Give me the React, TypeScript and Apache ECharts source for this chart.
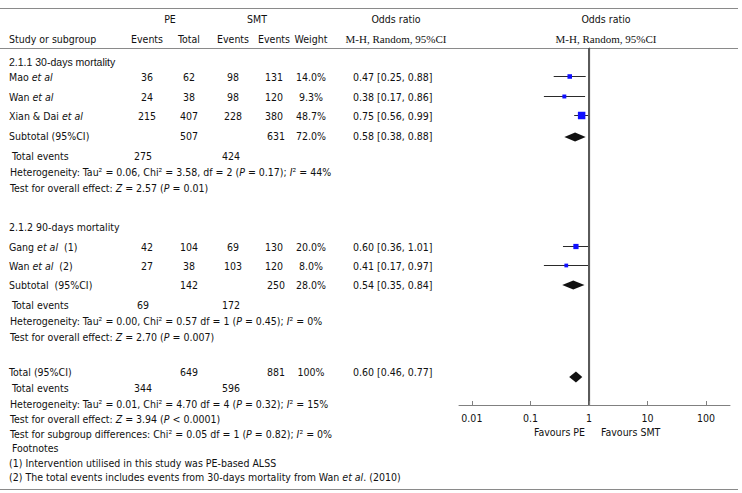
import React, { useEffect, useRef } from 'react';
import * as echarts from 'echarts';

// ---------------- data ----------------
const studyNames = ['Mao *et al*', 'Wan *et al*', 'Xian & Dai *et al*', 'Gang *et al*  (1)', 'Wan *et al*  (2)'];
const peEvents = [36, 24, 215, 42, 27];
const peTotal = [62, 38, 407, 104, 38];
const smtEvents = [98, 98, 228, 69, 103];
const smtTotal = [131, 120, 380, 130, 120];
const studyWeight = [14.0, 9.3, 48.7, 20.0, 8.0];
const studyOR = [0.47, 0.38, 0.75, 0.60, 0.41];
const studyLo = [0.25, 0.17, 0.56, 0.36, 0.17];
const studyHi = [0.88, 0.86, 0.99, 1.01, 0.97];

const groupHeadings = ['2.1.1 30-days mortality', '2.1.2 90-days mortality'];
const pooledLabels = ['Subtotal (95%CI)', 'Subtotal  (95%CI)', 'Total (95%CI)'];
const pooledPeTotal = [507, 142, 649];
const pooledSmtTotal = [631, 250, 881];
const pooledWeight = [72.0, 28.0, 100];
const pooledOR = [0.58, 0.54, 0.60];
const pooledLo = [0.38, 0.35, 0.46];
const pooledHi = [0.88, 0.84, 0.77];
const pooledPeEvents = [275, 69, 344];
const pooledSmtEvents = [424, 172, 596];
const heterogeneity = [
  'Heterogeneity: Tau² = 0.06, Chi² = 3.58, df = 2 (*P* = 0.17); *I*² = 44%',
  'Heterogeneity: Tau² = 0.00, Chi² = 0.57 df = 1 (*P* = 0.45); *I*² = 0%',
  'Heterogeneity: Tau² = 0.01, Chi² = 4.70 df = 4 (*P* = 0.32); *I*² = 15%',
];
const overallEffect = [
  'Test for overall effect: *Z* = 2.57 (*P* = 0.01)',
  'Test for overall effect: *Z* = 2.70 (*P* = 0.007)',
  'Test for overall effect: *Z* = 3.94 (*P* < 0.0001)',
];
const subgroupTest = 'Test for subgroup differences: Chi² = 0.05 df = 1 (*P* = 0.82); *I*² = 0%';
const footnotes = [
  'Footnotes',
  '(1) Intervention utilised in this study was PE-based ALSS',
  '(2) The total events includes events from 30-days mortality from Wan *et al*. (2010)',
];
const nullEffect = 1;
const tickValues = [0.01, 0.1, 1, 10, 100];
const tickLabels = ['0.01', '0.1', '1', '10', '100'];
const favourLabels = ['Favours PE', 'Favours SMT'];

// ---------------- layout ----------------
const studyRowY = [77, 97, 116, 247, 266];
const headingRowY = [62, 227];
const pooledRowY = [136, 285, 372];
const diamondY = [137, 285, 377];
const diamondHalfH = [4.5, 4.5, 5.5];
const totalEventsY = [156, 305, 388];
const hetY = [172, 321, 404];
const effectY = [188, 337, 419];
const subgroupY = 434;
const footY = [448, 463, 477];
const PLOT_TOP = 48;
const PLOT_BOTTOM = 405;
const COL = { name: 9, peE: 147, peT: 189, smtE: 233, smtT: 274, weight: 311, or: 353 };

const SANS = "'DejaVu Sans Condensed', 'Liberation Sans', Arial, sans-serif";
const NARROW = "'Liberation Sans Narrow', 'Liberation Sans', Arial, sans-serif";
const SERIF = "'Liberation Serif', 'Times New Roman', serif";
const FS = 10.5;
const TXT = '#111111';
const LINE = '#8a8a8a';

const toRich = (s: string) =>
  s
    .split('*')
    .map((p, i) => (p ? `{${i % 2 ? 'i' : 'n'}|${p}}` : ''))
    .join('');

const richStyles = (family: string, size: number) => ({
  n: { fontFamily: family, fontSize: size, fill: TXT, color: TXT },
  i: { fontFamily: family, fontSize: size, fill: TXT, color: TXT, fontStyle: 'italic' },
});

const txt = (x: number, y: number, s: string | number, align = 'left', family = SANS, size = FS) => ({
  type: 'text',
  x,
  y,
  silent: true,
  style: {
    text: toRich(String(s)),
    rich: richStyles(family, size),
    fontFamily: family,
    fontSize: size,
    fill: TXT,
    align,
    verticalAlign: 'middle',
    textAlign: align,
    textVerticalAlign: 'middle',
  },
});

const hline = (y: number) => ({
  type: 'line',
  silent: true,
  shape: { x1: 0, y1: y, x2: 738, y2: y },
  style: { stroke: LINE, lineWidth: 1 },
});

const fmtW = (w: number) => (w === 100 ? '100%' : w.toFixed(1) + '%');
const fmtOR = (o: number, l: number, h: number) => `${o.toFixed(2)} [${l.toFixed(2)}, ${h.toFixed(2)}]`;

export default function App() {
  const ref = useRef<HTMLDivElement>(null);
  useEffect(() => {
    document.body.style.margin = '0';
    if (!ref.current) return;
    const chart = echarts.init(ref.current, null, { renderer: 'svg' });

    const g: any[] = [];
    g.push(hline(8.5), hline(48.5), hline(489.5));
    // headers
    g.push(txt(170, 19, 'PE', 'center'));
    g.push(txt(257, 19, 'SMT', 'center'));
    g.push(txt(396, 19, 'Odds ratio', 'center'));
    g.push(txt(606, 19, 'Odds ratio', 'center'));
    g.push(txt(COL.name, 39, 'Study or subgroup'));
    g.push(txt(COL.peE, 39, 'Events', 'center'));
    g.push(txt(COL.peT, 39, 'Total', 'center'));
    g.push(txt(COL.smtE, 39, 'Events', 'center'));
    g.push(txt(COL.smtT, 39, 'Events', 'center'));
    g.push(txt(COL.weight, 39, 'Weight', 'center'));
    g.push(txt(396, 39, 'M-H, Random, 95%CI', 'center', SERIF, 11));
    g.push(txt(606, 39, 'M-H, Random, 95%CI', 'center', SERIF, 11));
    // group headings
    g.push(txt(COL.name, headingRowY[0], groupHeadings[0], 'left', NARROW, 10.5));
    g.push(txt(COL.name, headingRowY[1], groupHeadings[1]));
    // studies
    studyNames.forEach((n, i) => {
      const y = studyRowY[i];
      g.push(txt(COL.name, y, n));
      g.push(txt(COL.peE, y, peEvents[i], 'center'));
      g.push(txt(COL.peT, y, peTotal[i], 'center'));
      g.push(txt(COL.smtE, y, smtEvents[i], 'center'));
      g.push(txt(COL.smtT, y, smtTotal[i], 'center'));
      g.push(txt(COL.weight, y, fmtW(studyWeight[i]), 'center'));
      g.push(txt(COL.or, y, fmtOR(studyOR[i], studyLo[i], studyHi[i])));
    });
    // pooled
    pooledLabels.forEach((n, i) => {
      const y = pooledRowY[i];
      g.push(txt(COL.name, y, n));
      g.push(txt(COL.peT, y, pooledPeTotal[i], 'center'));
      g.push(txt(COL.smtT + 2, y, pooledSmtTotal[i], 'center'));
      g.push(txt(COL.weight, y, fmtW(pooledWeight[i]), 'center'));
      g.push(txt(COL.or, y, fmtOR(pooledOR[i], pooledLo[i], pooledHi[i])));
      g.push(txt(12, totalEventsY[i], 'Total events'));
      g.push(txt(COL.peE - 4, totalEventsY[i], pooledPeEvents[i], 'center'));
      g.push(txt(COL.smtE - 2, totalEventsY[i], pooledSmtEvents[i], 'center'));
      g.push(txt(10, hetY[i], heterogeneity[i]));
      g.push(txt(10, effectY[i], overallEffect[i]));
    });
    g.push(txt(10, subgroupY, subgroupTest));
    g.push(txt(12, footY[0], footnotes[0]));
    g.push(txt(9, footY[1], footnotes[1]));
    g.push(txt(9, footY[2], footnotes[2]));
    g.push(txt(585, 432, favourLabels[0], 'right'));
    g.push(txt(601, 432, favourLabels[1], 'left'));

    const studyData = studyOR.map((o, i) => [
      Math.log10(o),
      studyRowY[i] - 0.5,
      Math.log10(studyLo[i]),
      Math.log10(studyHi[i]),
      studyWeight[i],
    ]);
    const pooledData = pooledOR.map((o, i) => [
      Math.log10(o),
      diamondY[i],
      Math.log10(pooledLo[i]),
      Math.log10(pooledHi[i]),
      diamondHalfH[i],
    ]);
    const tickPos = tickValues.map((v) => Math.log10(v));
    const nullX = Math.log10(nullEffect);

    chart.setOption({
      animation: false,
      backgroundColor: '#ffffff',
      textStyle: { fontFamily: SANS },
      grid: { left: 459, right: 12, top: PLOT_TOP, bottom: 493 - PLOT_BOTTOM, containLabel: false },
      xAxis: {
        type: 'value',
        min: -2.22,
        max: 2.41,
        axisLine: { show: true, onZero: false, lineStyle: { color: '#808080', width: 1 } },
        axisTick: { show: true, inside: true, length: 4, customValues: tickPos, lineStyle: { color: '#808080' } },
        axisLabel: {
          show: true,
          customValues: tickPos,
          margin: 7,
          fontSize: FS,
          fontFamily: SANS,
          color: TXT,
          formatter: (v: number) => tickLabels[Math.round(v) + 2],
        },
        splitLine: { show: false },
      },
      // the y axis line sits on x = log10(1) = 0: the line of no effect
      yAxis: {
        type: 'value',
        min: PLOT_TOP,
        max: PLOT_BOTTOM,
        inverse: true,
        show: true,
        axisLine: { show: true, onZero: true, lineStyle: { color: '#5a5a5a', width: 1.2 } },
        axisTick: { show: false },
        axisLabel: { show: false },
        splitLine: { show: false },
      },
      series: [
        {
          type: 'custom',
          name: 'studies',
          data: studyData,
          encode: { x: 0, y: 1 },
          renderItem: (params: any, api: any) => {
            const y = api.value(1);
            const c = api.coord([api.value(0), y]);
            const l = api.coord([api.value(2), y]);
            const h = api.coord([api.value(3), y]);
            const s = Math.sqrt(api.value(4)) * 0.9 + 1.2;
            return {
              type: 'group',
              children: [
                { type: 'line', shape: { x1: l[0], y1: c[1], x2: h[0], y2: c[1] }, style: { stroke: '#2a2a2a', lineWidth: 1 } },
                { type: 'rect', shape: { x: c[0] - s / 2, y: c[1] - s / 2, width: s, height: s }, style: { fill: '#1010ff' } },
              ],
            };
          },
        },
        {
          type: 'custom',
          name: 'pooled',
          data: pooledData,
          encode: { x: 0, y: 1 },
          renderItem: (params: any, api: any) => {
            const y = api.value(1);
            const c = api.coord([api.value(0), y]);
            const l = api.coord([api.value(2), y]);
            const h = api.coord([api.value(3), y]);
            const hh = api.value(4);
            return {
              type: 'polygon',
              shape: { points: [[l[0], c[1]], [c[0], c[1] - hh], [h[0], c[1]], [c[0], c[1] + hh]] },
              style: { fill: '#111111' },
            };
          },
        },
      ],
    });

    // vertical line of no effect, also placed through the x axis scale
    const top = chart.convertToPixel({ gridIndex: 0 }, [nullX, PLOT_TOP]) as number[];
    const bot = chart.convertToPixel({ gridIndex: 0 }, [nullX, PLOT_BOTTOM]) as number[];
    if (top && bot && isFinite(top[0]) && isFinite(top[1]) && isFinite(bot[1])) {
      const vx = Math.floor(top[0]);
      g.push({
        type: 'rect',
        silent: true,
        z: 10,
        shape: { x: vx, y: Math.min(top[1], bot[1]), width: 1.2, height: Math.abs(bot[1] - top[1]) },
        style: { fill: '#5a5a5a' },
      });
    }
    chart.setOption({ graphic: { elements: g } });
    return () => chart.dispose();
  }, []);
  return <div ref={ref} style={{ width: 742, height: 493 }} />;
}
